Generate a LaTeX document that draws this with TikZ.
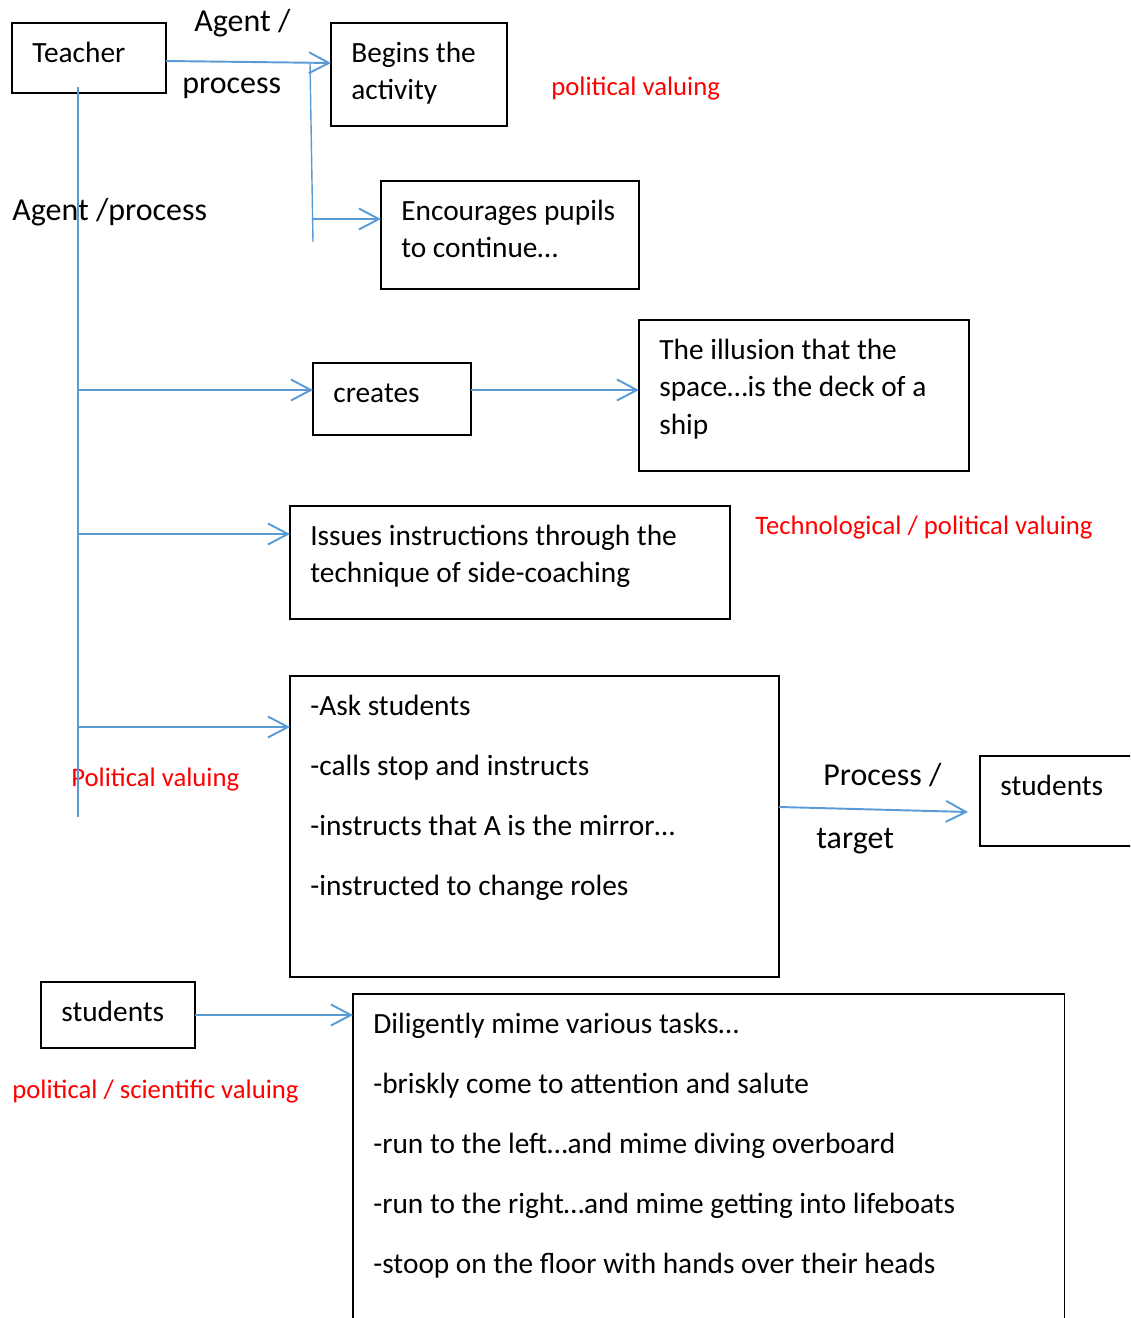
\documentclass[tikz,border=0pt]{standalone}
\usepackage{fontspec}
\setmainfont{Carlito}
\usepackage{tikz}
\usetikzlibrary{arrows.meta, positioning, calc}
\definecolor{linkblue}{RGB}{91,155,213}
\definecolor{valred}{RGB}{255,0,0}
\tikzset{
    box/.style={
        rectangle,
        draw=black,
        line width=0.7pt,
        anchor=north west,
        inner sep=0pt,
        outer sep=0pt
    },
    boxtext/.style={
        anchor=north west,
        inner sep=0pt,
        align=left,
        font=\fontsize{16.7}{21.3}\selectfont
    },
    lbl/.style={
        anchor=base west,
        inner sep=0pt,
        font=\fontsize{18.2}{22}\selectfont
    },
    valuing/.style={
        anchor=base west,
        inner sep=0pt,
        text=valred,
        font=\fontsize{15.2}{18}\selectfont
    },
    link/.style={
        draw=linkblue,
        line width=1.1pt,
        -{Straight Barb[length=0.4cm, width=0.42cm, line width=1.1pt]}
    },
    trunk/.style={
        draw=linkblue,
        line width=0.8pt
    }
}

\begin{document}
\begin{tikzpicture}[x=0.02cm, y=0.02cm]

    \clip (0,0) rectangle (1130,-1318);

    % Boxes
    \node (bTeach) [box, minimum width=3.08cm, minimum height=1.40cm] at (12,-23) {};
    \node (bBegin) [box, minimum width=3.52cm, minimum height=2.06cm] at (331,-23) {};
    \node (bEnc) [box, minimum width=5.16cm, minimum height=2.16cm] at (381,-181) {};
    \node (bCreate) [box, minimum width=3.16cm, minimum height=1.44cm] at (313,-363) {};
    \node (bIll) [box, minimum width=6.60cm, minimum height=3.02cm] at (639,-320) {};
    \node (bIssue) [box, minimum width=8.80cm, minimum height=2.26cm] at (290,-506) {};
    \node (bAsk) [box, minimum width=9.78cm, minimum height=6.02cm] at (290,-676) {};
    \node (bTarget) [box, minimum width=4.00cm, minimum height=1.80cm] at (980,-756) {};
    \node (bStud) [box, minimum width=3.08cm, minimum height=1.32cm] at (41,-982) {};
    \node (bMime) [box, minimum width=14.24cm, minimum height=8.00cm] at (353,-994) {};

    % Box texts
    \node (tTeach) [boxtext] at ($(bTeach.north west)+(20,-12.8)$) {\strut Teacher};
    \node (tBegin) [boxtext] at ($(bBegin.north west)+(20,-12.8)$) {\strut Begins the\\activity};
    \node (tEnc) [boxtext] at ($(bEnc.north west)+(20,-12.8)$) {\strut Encourages pupils\\to continue…};
    \node (tCreate) [boxtext] at ($(bCreate.north west)+(20,-12.8)$) {\strut creates};
    \node (tIll) [boxtext] at ($(bIll.north west)+(20,-12.8)$) {\strut The illusion that the\\space…is the deck of a\\ship};
    \node (tIssue) [boxtext] at ($(bIssue.north west)+(20,-12.8)$) {\strut Issues instructions through the\\technique of side-coaching};
    \node (tAsk) [boxtext] at ($(bAsk.north west)+(20,-12.8)$) {\strut -Ask students\\[0.45cm]
        -calls stop and instructs\\[0.45cm]
        -instructs that A is the mirror…\\[0.45cm]
        -instructed to change roles};
    \node (tTarget) [boxtext] at ($(bTarget.north west)+(20,-12.8)$) {\strut students};
    \node (tStud) [boxtext] at ($(bStud.north west)+(20,-12.8)$) {\strut students};
    \node (tMime) [boxtext] at ($(bMime.north west)+(20,-12.8)$) {\strut Diligently mime various tasks…\\[0.45cm]
        -briskly come to attention and salute\\[0.45cm]
        -run to the left…and mime diving overboard\\[0.45cm]
        -run to the right…and mime getting into lifeboats\\[0.45cm]
        -stoop on the floor with hands over their heads};

    % Labels
    \node (lAgent) [lbl] at (194,-32) {Agent /};
    \node (lProc) [lbl] at (182,-93) {process};
    \node (lAgentProc) [lbl] at (12,-220) {Agent /process};
    \node (lProcess) [lbl] at (823,-785) {Process /};
    \node (lTarget) [lbl] at (816,-848) {target};
    \node (vPol) [valuing] at (551,-95) {political valuing};
    \node (vTech) [valuing] at (755,-534) {Technological / political valuing};
    \node (vPolCap) [valuing] at (71,-786) {Political valuing};
    \node (vSci) [valuing] at (12,-1098) {political / scientific valuing};

    % Trunk lines
    \coordinate (vTop) at (78,-87);
    \coordinate (vBot) at (78,-817);
    \coordinate (brTop) at (310,-63);
    \coordinate (brBot) at (313,-242);
    \draw [trunk] (vTop) -- (vBot);
    \draw [trunk] (brTop) -- (brBot);

    % Connections
    \coordinate (encIn) at (313,-219);
    \coordinate (creIn) at (78,-390);
    \coordinate (issIn) at (78,-534);
    \coordinate (askIn) at (78,-727);
    \draw [link] ([yshift=-0.06cm]bTeach.east) -- ([yshift=0.23cm]bBegin.west);
    \draw [link] (encIn) -- (encIn -| bEnc.west);
    \draw [link] (creIn) -- (creIn -| bCreate.west);
    \draw [link] (bCreate.east |- creIn) -- (creIn -| bIll.west);
    \draw [link] (issIn) -- (issIn -| bIssue.west);
    \draw [link] (askIn) -- (askIn -| bAsk.west);
    \draw [link] ([yshift=0.39cm]bAsk.east) -- ([xshift=-0.24cm, yshift=-0.22cm]bTarget.west);
    \draw [link] (bStud.east) -- (bStud.east -| bMime.west);

\end{tikzpicture}
\end{document}
